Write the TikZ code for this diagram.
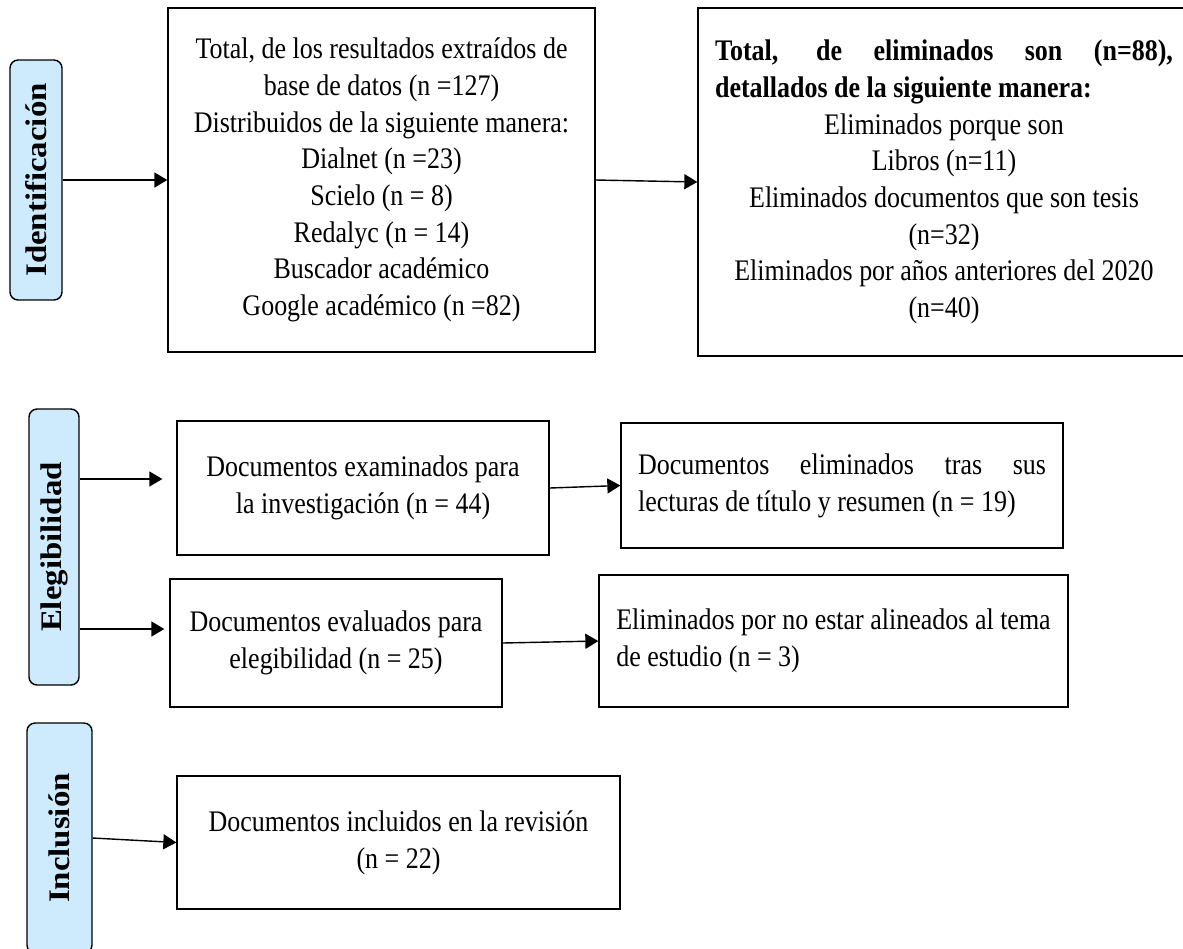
\documentclass[tikz,border=0pt]{standalone}
\usepackage{fontspec}
\setmainfont[FakeStretch=0.87]{Liberation Serif}
\newfontfamily\etiqueta[FakeStretch=1.1]{Liberation Serif}
\usetikzlibrary{arrows.meta,calc}
\definecolor{celeste}{RGB}{206,235,254}
\tikzset{
  caja/.style={draw, line width=0.8pt, inner sep=0pt, align=center, font=\fontsize{17}{20.9}\selectfont},
  etapa/.style={draw, line width=0.8pt, fill=celeste, rounded corners=0.16cm, inner sep=0pt, font=\etiqueta\bfseries\fontsize{17}{20}\selectfont},
  flecha/.style={line width=0.8pt, -{Triangle[length=0.26cm,width=0.3cm]}}
}
\begin{document}
\begin{tikzpicture}[x=0.02cm, y=-0.02cm]
        \useasboundingbox (0,0) rectangle (1183,948);
        \node[etapa, minimum width=1.04cm, minimum height=4.8cm] (ident) at (36,180) {\rotatebox{90}{Identificación}};
        \node[etapa, minimum width=1cm, minimum height=5.52cm] (elegib) at (54,547) {\rotatebox{90}{Elegibilidad}};
        \node[etapa, minimum width=1.3cm, minimum height=4.6cm] (inclu) at (59.5,838) {\rotatebox{90}{Inclusión}};
        \node[caja, minimum width=8.54cm, minimum height=6.88cm] (total) at (381.5,180) {Total, de los resultados extraídos de\\ base de datos (n =127)\\ Distribuidos de la siguiente manera:\\ Dialnet (n =23)\\ Scielo (n = 8)\\ Redalyc (n = 14)\\ Buscador académico\\ Google académico (n =82)};
        \node[caja, minimum width=9.84cm, minimum height=6.96cm] (elim) at (944,182) {\makebox[9.16cm][s]{\bfseries Total, de eliminados son (n=88),}\\ \makebox[9.16cm][l]{\bfseries detallados de la siguiente manera:}\\ Eliminados porque son\\ Libros (n=11)\\ Eliminados documentos que son tesis\\ (n=32)\\ Eliminados por años anteriores del 2020\\ (n=40)};
        \node[caja, minimum width=7.44cm, minimum height=2.68cm] (exam) at (363,488) {Documentos examinados para\\ la investigación (n = 44)};
        \node[caja, minimum width=8.84cm, minimum height=2.5cm, align=justify, text width=8.16cm] (trasl) at (842,485.5) {Documentos eliminados tras sus\linebreak lecturas de título y resumen (n = 19)};
        \node[caja, minimum width=6.64cm, minimum height=2.56cm] (eval) at (336,643) {Documentos evaluados para\\ elegibilidad (n = 25)};
        \node[caja, minimum width=9.38cm, minimum height=2.64cm, align=left] (noalin) at (833.5,641) {Eliminados por no estar alineados al tema\\ de estudio (n = 3)};
        \node[caja, minimum width=8.86cm, minimum height=2.66cm] (incl) at (398.5,842.5) {Documentos incluidos en la revisión\\ (n = 22)};
        \draw[flecha] (ident.east) -- (total.west);
        \draw[flecha] (total.east) -- (elim.west);
        \draw[flecha, shorten >=0.28cm] ($(elegib.east |- exam.west)+(0,-9)$) -- ($(exam.west)+(0,-9)$);
        \draw[flecha, shorten >=0.1cm] ($(elegib.east |- eval.west)+(0,-14)$) -- ($(eval.west)+(0,-14)$);
        \draw[flecha] (exam.east) -- (trasl.west);
        \draw[flecha] (eval.east) -- (noalin.west);
        \draw[flecha] (inclu.east) -- (incl.west);
    \end{tikzpicture}
\end{document}
